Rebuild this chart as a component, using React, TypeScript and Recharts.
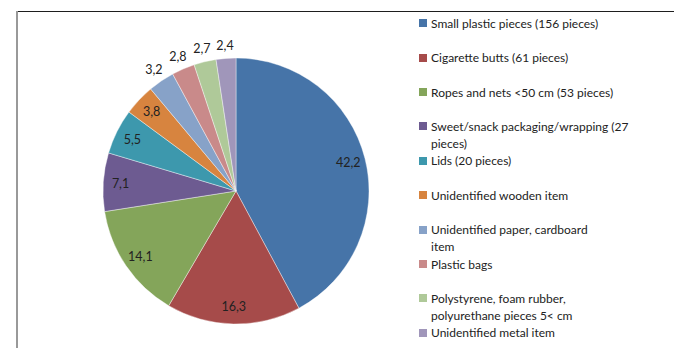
import { PieChart, Pie, Cell, Legend } from "recharts";

const categories = [
  "Small plastic pieces (156 pieces)",
  "Cigarette butts (61 pieces)",
  "Ropes and nets <50 cm (53 pieces)",
  "Sweet/snack packaging/wrapping (27\npieces)",
  "Lids (20 pieces)",
  "Unidentified wooden item",
  "Unidentified paper, cardboard\nitem",
  "Plastic bags",
  "Polystyrene, foam rubber,\npolyurethane pieces 5< cm",
  "Unidentified metal item",
];

const shares = [42.2, 16.3, 14.1, 7.1, 5.5, 3.8, 3.2, 2.8, 2.7, 2.4];

const colors = [
  "#4674a8",
  "#a64b4a",
  "#84a55a",
  "#6d5b91",
  "#3d98ad",
  "#d7843f",
  "#87a2c8",
  "#c98a8a",
  "#afc999",
  "#a096ba",
];

const data = categories.map((name, i) => ({ name, value: shares[i] }));

const FONT = "Lato, 'Open Sans', sans-serif";
const RADIAN = Math.PI / 180;

// small slices get their number outside the pie, the rest sit near the rim
const renderLabel = (props: any) => {
  const { cx, cy, midAngle, outerRadius, value } = props;
  const r = value < 3.5 ? outerRadius * 1.1 : outerRadius * 0.87;
  const x = cx + r * Math.cos(-midAngle * RADIAN);
  const y = cy + r * Math.sin(-midAngle * RADIAN);
  return (
    <text
      x={x}
      y={y}
      fill="#222"
      fontSize={12.5}
      fontFamily={FONT}
      textAnchor="middle"
      dominantBaseline="central"
    >
      {value.toFixed(1).replace(".", ",")}
    </text>
  );
};

const renderLegend = () => (
  <div style={{ fontFamily: FONT, fontSize: 12, color: "#222" }}>
    {data.map((d, i) => (
      <div
        key={d.name}
        style={{ position: "absolute", top: i * 34.4, left: 0, display: "flex", lineHeight: "17px" }}
      >
        <div
          style={{
            width: 8,
            height: 8,
            marginTop: 4.5,
            marginRight: 4,
            background: colors[i],
            flexShrink: 0,
          }}
        />
        <div style={{ whiteSpace: "pre-line" }}>{d.name}</div>
      </div>
    ))}
  </div>
);

export default function App() {
  document.body.style.margin = "0";
  return (
    <div style={{ position: "relative", width: 674, height: 348, background: "#fff" }}>
      <div style={{ position: "absolute", left: 17, top: 10.5, width: 657, height: 1.5, background: "#1e1e1e" }} />
      <div style={{ position: "absolute", left: 16, top: 11, width: 2, height: 337, background: "#999" }} />
      <PieChart
        width={674}
        height={348}
        margin={{ top: 0, right: 0, bottom: 0, left: 0 }}
        style={{ position: "absolute", left: 0, top: 0 }}
      >
        <Pie
          data={data}
          dataKey="value"
          nameKey="name"
          cx={236}
          cy={191}
          outerRadius={133}
          startAngle={90}
          endAngle={-270}
          stroke="#ffffff"
          strokeWidth={0.4}
          label={renderLabel}
          labelLine={false}
          isAnimationActive={false}
        >
          {data.map((d, i) => (
            <Cell key={d.name} fill={colors[i]} />
          ))}
        </Pie>
        <Legend
          layout="vertical"
          align="right"
          verticalAlign="top"
          content={renderLegend}
          wrapperStyle={{ left: 419, top: 14.8, width: 250, height: 330 }}
        />
      </PieChart>
    </div>
  );
}
